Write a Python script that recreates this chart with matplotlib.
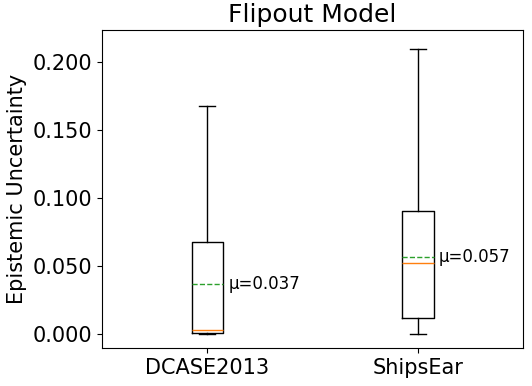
import matplotlib
matplotlib.use('Agg')
import matplotlib.pyplot as plt
from matplotlib.ticker import FormatStrFormatter

# Box statistics
labels = ['DCASE2013', 'ShipsEar']
whislo = [0.0, 0.0]
q1 = [0.0007, 0.0118]
med = [0.003, 0.052]
q3 = [0.0676, 0.0904]
whishi = [0.168, 0.2096]
means = [0.037, 0.057]

stats = []
for i in range(len(labels)):
    stats.append({
        'label': labels[i], 'whislo': whislo[i], 'q1': q1[i], 'med': med[i],
        'q3': q3[i], 'whishi': whishi[i], 'mean': means[i], 'fliers': []
    })

fig, ax = plt.subplots(figsize=(5.32, 3.86), dpi=100)
fig.subplots_adjust(left=0.192, right=0.983, top=0.922, bottom=0.098)

ax.bxp(stats, showmeans=True, meanline=True, showfliers=False,
       meanprops=dict(color='#2ca02c', linestyle='--', linewidth=1.0))

for i, m in enumerate(means):
    ax.text(i + 1.1, m, f'μ={m:.3f}', fontsize=12, va='center', ha='left')

ax.set_ylim(-0.0103, 0.2235)
ax.yaxis.set_major_formatter(FormatStrFormatter('%.3f'))
ax.tick_params(axis='both', labelsize=15)
ax.set_ylabel('Epistemic Uncertainty', fontsize=15)
ax.set_title('Flipout Model', fontsize=18)

fig.savefig('out.png', dpi=100)
